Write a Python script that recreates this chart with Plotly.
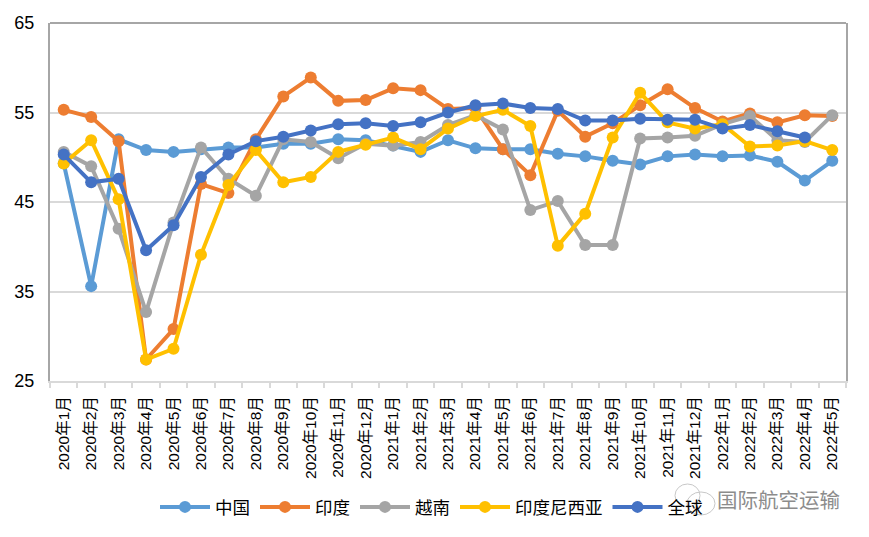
import plotly.graph_objects as go

months = [f"{y}年{m}月" for y, m in
          [(2020, i) for i in range(1, 13)] + [(2021, i) for i in range(1, 13)] + [(2022, i) for i in range(1, 6)]]

china = [49.3, 35.6, 52.0, 50.8, 50.6, 50.9, 51.1, 51.1, 51.5, 51.5, 52.0, 51.9, 51.3, 50.6, 51.9,
         51.0, 50.9, 50.9, 50.4, 50.1, 49.6, 49.2, 50.1, 50.3, 50.1, 50.2, 49.5, 47.4, 49.6]
india = [55.3, 54.5, 51.8, 27.4, 30.8, 47.0, 46.0, 52.0, 56.8, 58.9, 56.3, 56.4, 57.7, 57.5, 55.4,
         55.5, 50.9, 48.0, 55.2, 52.3, 53.8, 55.8, 57.6, 55.5, 54.0, 54.9, 53.9, 54.7, 54.6]
vietnam = [50.6, 49.0, 42.0, 32.7, 42.7, 51.1, 47.6, 45.7, 52.0, 51.7, 49.9, 51.5, 51.3, 51.7, 53.6,
           54.7, 53.1, 44.1, 45.1, 40.2, 40.2, 52.1, 52.2, 52.4, 53.7, 54.6, 51.9, 51.7, 54.7]
indonesia = [49.3, 51.9, 45.3, 27.4, 28.6, 39.1, 46.9, 50.8, 47.2, 47.8, 50.6, 51.4, 52.2, 50.9, 53.2,
             54.6, 55.3, 53.5, 40.1, 43.7, 52.2, 57.2, 53.9, 53.2, 53.7, 51.2, 51.3, 51.8, 50.8]
world = [50.3, 47.2, 47.6, 39.6, 42.4, 47.8, 50.3, 51.8, 52.3, 53.0, 53.7, 53.8, 53.5, 53.9, 55.0,
         55.8, 56.0, 55.5, 55.4, 54.1, 54.1, 54.3, 54.2, 54.2, 53.2, 53.6, 52.9, 52.2, None]

series = [("中国", china, "#5B9BD5"), ("印度", india, "#ED7D31"), ("越南", vietnam, "#A5A5A5"),
          ("印度尼西亚", indonesia, "#FFC000"), ("全球", world, "#4472C4")]

CJK = "Liberation Sans, Noto Sans CJK SC, sans-serif"

# page pixel -> paper fraction of the plot area (50..846 wide, 23..381 tall in the photographed page)
def px(x):
    return (x - 50) / 796
def py(y):
    return (381 - y) / 358

fig = go.Figure()
for name, vals, color in series:
    fig.add_trace(go.Scatter(x=months, y=vals, name=name, mode="lines+markers",
                             line=dict(color=color, width=4),
                             marker=dict(color=color, size=12, line=dict(width=0))))

fig.update_layout(
    width=861, height=529, autosize=False,
    margin=dict(l=42, r=23, t=15, b=156, autoexpand=False),
    paper_bgcolor="white", plot_bgcolor="white",
    font=dict(family=CJK, color="#000000"),
    legend=dict(orientation="h", x=px(155), xanchor="left", y=py(507), yanchor="middle",
                font=dict(size=17.5), itemwidth=50, tracegroupgap=0,
                bgcolor="rgba(0,0,0,0)", traceorder="normal"),
)
fig.update_xaxes(type="category", categoryorder="array", categoryarray=months,
                 range=[-0.5, 28.5], tickson="boundaries", ticks="outside", ticklen=5,
                 tickcolor="#D9D9D9", tickwidth=1.5, tickangle=-90, tickfont=dict(size=15.5),
                 ticklabelstandoff=7,
                 showline=True, linecolor="#D9D9D9", linewidth=2, showgrid=False,
                 tickmode="array", tickvals=months, ticktext=months)
fig.update_yaxes(range=[25, 65], tickvals=[25, 35, 45, 55, 65], tickfont=dict(size=18),
                 ticklabelstandoff=10,
                 showgrid=True, gridcolor="#D9D9D9", gridwidth=1.5, zeroline=False,
                 showline=True, mirror=True, linecolor="#A6A6A6", linewidth=2, ticks="", ticklen=0)
fig.add_shape(type="line", xref="paper", yref="paper", x0=0, x1=1, y0=1, y1=1,
              line=dict(color="#A6A6A6", width=2))
# watermark icon
for x0, x1, y0, y1 in [(675, 700, 484, 507), (687, 715, 492, 515)]:
    fig.add_shape(type="circle", xref="paper", yref="paper", x0=px(x0), x1=px(x1), y0=py(y1), y1=py(y0),
                  line=dict(color="#C8C8C8", width=1), fillcolor="rgba(0,0,0,0)")
fig.add_annotation(text="国际航空运输", xref="paper", yref="paper", x=px(842), xanchor="right",
                   y=py(500), yanchor="middle", showarrow=False,
                   font=dict(size=20.5, color="#8C8C8C"))
fig.write_html("out.html")
